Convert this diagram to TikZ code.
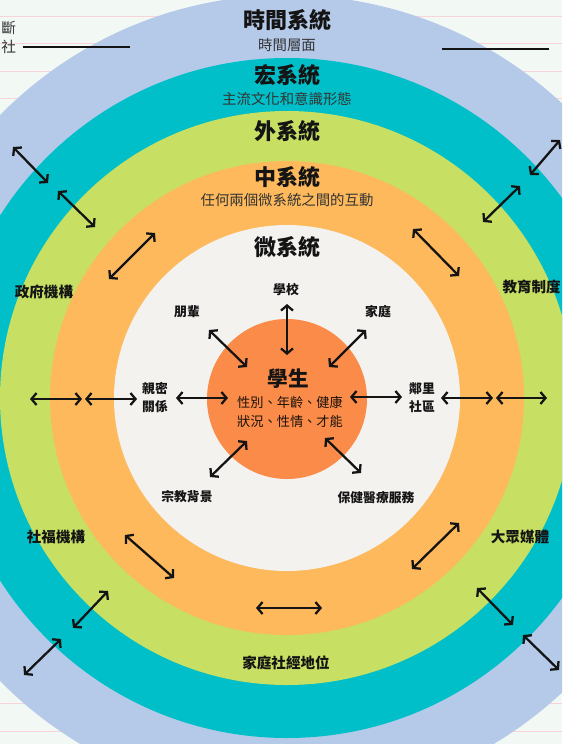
\documentclass[tikz,border=0pt]{standalone}
\usepackage{fontspec}
\setmainfont{Noto Sans CJK TC}
\usetikzlibrary{arrows.meta}
\definecolor{paper}{HTML}{F2F8F4}
\definecolor{rule}{HTML}{F8D4DA}
\definecolor{chrono}{HTML}{B5C9E8}
\definecolor{macro}{HTML}{00BFC8}
\definecolor{exo}{HTML}{C7DF62}
\definecolor{meso}{HTML}{FDB95C}
\definecolor{micro}{HTML}{F4F2EF}
\definecolor{student}{HTML}{FA8B49}
\definecolor{ink}{HTML}{141414}

\begin{document}
\begin{tikzpicture}[x=0.75pt,y=-0.75pt,
  every node/.style={inner sep=0pt, text=ink},
  title/.style={font=\bfseries\fontsize{16.5}{18}\selectfont},
  subtitle/.style={font=\fontsize{10.8}{12}\selectfont, text=black!80},
  outerlabel/.style={font=\bfseries\fontsize{10.9}{12}\selectfont},
  innerlabel/.style={font=\bfseries\fontsize{9.6}{13.5}\selectfont, align=center},
  twoway/.style={{Straight Barb[length=3.8pt,width=9pt]}-{Straight Barb[length=3.8pt,width=9pt]}, line width=1.7pt, ink}]
\useasboundingbox (0,0) rectangle (562,744);
\clip (0,0) rectangle (562,744);
\fill[paper] (0,0) rectangle (562,744);
% ruled paper behind the rings
\foreach \k in {0,...,26}
  \draw[rule, line width=0.6pt] (0,16+27.5*\k) -- (562,16+27.5*\k);

% rings
\coordinate (c) at (287,398);
\fill[chrono] (c) circle[radius=403];
\fill[macro] (c) circle[radius=340];
\fill[exo] (c) circle[radius=287];
\fill[meso] (c) circle[radius=237];
\fill[micro] (c) circle[radius=173];
\fill[student] (287,399) circle[radius=80];

% cut-off marks at the edges
\node[anchor=west, font=\fontsize{11}{12}\selectfont, text=black!80] (cut-a) at (1,28) {斷};
\node[anchor=west, font=\fontsize{11}{12}\selectfont, text=black!80] (cut-b) at (1,47) {社};
\coordinate (cut-b-end) at (130,47);
\draw[line width=1.7pt, ink, shorten <=5pt] (cut-b) -- (cut-b-end);
\coordinate (cut-r-start) at (442,49);
\coordinate (cut-r-end) at (549,49);
\draw[line width=1.7pt, ink] (cut-r-start) -- (cut-r-end);

% system titles
\node[title] (chrono-t) at (287,20) {時間系統};
\node[subtitle] (chrono-s) at (287,45) {時間層面};
\node[title] (macro-t) at (287,75) {宏系統};
\node[subtitle] (macro-s) at (287,99) {主流文化和意識形態};
\node[title] (exo-t) at (287,131) {外系統};
\node[title] (meso-t) at (287,177) {中系統};
\node[subtitle] (meso-s) at (287,200) {任何兩個微系統之間的互動};
\node[title] (micro-t) at (287,247) {微系統};

% exosystem settings
\node[outerlabel] (gov) at (44,292) {政府機構};
\node[outerlabel, anchor=east] (edu) at (561,287) {教育制度};
\node[outerlabel] (welfare) at (56,537) {社福機構};
\node[outerlabel] (media) at (520,537) {大眾媒體};
\node[outerlabel] (ses) at (286,663) {家庭社經地位};

% microsystem settings
\node[innerlabel] (school) at (286,290) {學校};
\node[innerlabel] (peer) at (187,312) {朋輩};
\node[innerlabel] (family) at (378,312) {家庭};
\node[innerlabel] (intimate) at (155,398) {親密\\關係};
\node[innerlabel] (neighbour) at (422,398) {鄰里\\社區};
\node[innerlabel] (religion) at (187,497) {宗教背景};
\node[innerlabel] (health) at (376,498) {保健醫療服務};

% student
\node[font=\bfseries\fontsize{15.5}{17}\selectfont] (stu-t) at (288,379) {學生};
\node[font=\fontsize{9.9}{14.2}\selectfont, align=center, text=black!85!brown] (stu-s) at (290,412)
  {性別、年齡、健康\\狀況、性情、才能};

% two-way influences
\foreach \n/\a/\b in {
    school/{287,304}/{287,355}, peer/{209,330}/{247,367}, family/{366,330}/{329,367},
    intimate/{176,398}/{228,398}, neighbour/{350,397}/{402,397},
    religion/{247,441}/{210,477}, health/{325,438}/{361,473},
    wl1/{30,399}/{82,399}, wl2/{85,399}/{137,399},
    el1/{441,398}/{493,398}, el2/{496,398}/{547,398},
    nw1/{13,147}/{48,183}, nw2/{58,191}/{95,227}, nw3/{155,233}/{109,279},
    ne1/{560,140}/{530,175}, ne2/{520,186}/{483,222}, ne3/{413,229}/{459,276},
    sw1/{125,535}/{174,578}, sw2/{108,591}/{73,628}, sw3/{61,639}/{24,675},
    s1/{256,608}/{322,608},
    se1/{459,523}/{412,569}, se2/{477,588}/{513,625}, se3/{523,635}/{559,670}} {
  \coordinate (\n-a) at (\a);
  \coordinate (\n-b) at (\b);
  \draw[twoway] (\n-a) -- (\n-b);
}
\end{tikzpicture}
\end{document}
